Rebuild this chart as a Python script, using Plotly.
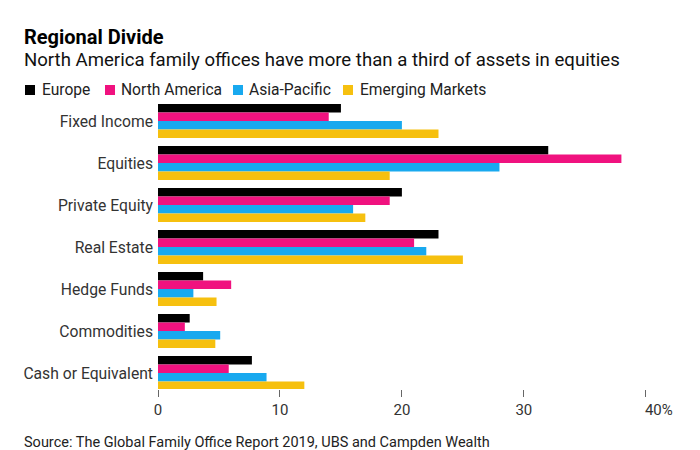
import plotly.graph_objects as go

categories = ["Fixed Income", "Equities", "Private Equity", "Real Estate",
              "Hedge Funds", "Commodities", "Cash or Equivalent"]
europe = [15, 32, 20, 23, 3.7, 2.6, 7.7]
north_america = [14, 38, 19, 21, 6.0, 2.2, 5.8]
asia_pacific = [20, 28, 16, 22, 2.9, 5.1, 8.9]
emerging = [23, 19, 17, 25, 4.8, 4.7, 12]

series_names = ["Europe", "North America", "Asia-Pacific", "Emerging Markets"]
series_values = [europe, north_america, asia_pacific, emerging]
colors = ["#000000", "#f0127f", "#18a9ef", "#f6c00f"]

tick_vals = [0, 10, 20, 30, 40]
tick_text = ["0", "10", "20", "30", "\u00a0" * 7 + "40%"]

FONT = "Roboto"

# layout geometry (pixels)
W, H = 700, 450
L, R, T, B = 158, 42, 100, 61
PW, PH = W - L - R, H - T - B

def px_x(x):
    return (x - L) / PW

def px_y(y):
    return (H - B - y) / PH

fig = go.Figure()
for name, vals, col in zip(series_names, series_values, colors):
    fig.add_trace(go.Bar(
        y=categories, x=vals, name=name, orientation="h",
        marker=dict(color=col, line=dict(width=0)),
    ))

annotations = [
    dict(text="<b>Regional Divide</b>", x=px_x(22), y=px_y(37),
         xref="paper", yref="paper", showarrow=False,
         xanchor="left", yanchor="middle",
         font=dict(family=FONT, size=20, color="#000000")),
    dict(text="North America family offices have more than a third of assets in equities",
         x=px_x(22), y=px_y(60), xref="paper", yref="paper", showarrow=False,
         xanchor="left", yanchor="middle",
         font=dict(family=FONT, size=18.6, color="#111111")),
    dict(text="Source: The Global Family Office Report 2019, UBS and Campden Wealth",
         x=px_x(22), y=px_y(442), xref="paper", yref="paper", showarrow=False,
         xanchor="left", yanchor="middle",
         font=dict(family=FONT, size=14.5, color="#222222")),
]
shapes = []

# custom legend (compact, like the original)
legend_square_x = [25, 105, 233, 343]
legend_text_x = [40, 119, 247, 358]
legend_y = 90
for name, col, sx, tx in zip(series_names, colors, legend_square_x, legend_text_x):
    shapes.append(dict(type="rect", xref="paper", yref="paper",
                       x0=px_x(sx), x1=px_x(sx + 10),
                       y0=px_y(legend_y - 5), y1=px_y(legend_y + 5),
                       fillcolor=col, line=dict(width=0)))
    annotations.append(dict(text=name, x=px_x(tx), y=px_y(legend_y),
                            xref="paper", yref="paper", showarrow=False,
                            xanchor="left", yanchor="middle",
                            font=dict(family=FONT, size=15.6, color="#222222")))

fig.update_layout(
    width=W, height=H,
    paper_bgcolor="white", plot_bgcolor="white",
    barmode="group", bargap=0.19, bargroupgap=0,
    margin=dict(l=L, r=R, t=T, b=B),
    font=dict(family=FONT, color="#333333", size=15),
    showlegend=False,
    xaxis=dict(
        range=[0, 41], tickvals=tick_vals, ticktext=tick_text,
        showgrid=False, zeroline=False, showline=False,
        ticks="outside", ticklen=7, tickcolor="#666666", tickwidth=1,
        tickfont=dict(family=FONT, size=15, color="#333333"),
        fixedrange=True,
    ),
    yaxis=dict(
        range=[6.38, -0.5], autorange=False,
        showgrid=False, zeroline=False, showline=False,
        ticks="", ticklabelstandoff=4,
        tickfont=dict(family=FONT, size=15.7, color="#333333"),
    ),
    annotations=annotations,
    shapes=shapes,
)

fig.write_html("out.html")
